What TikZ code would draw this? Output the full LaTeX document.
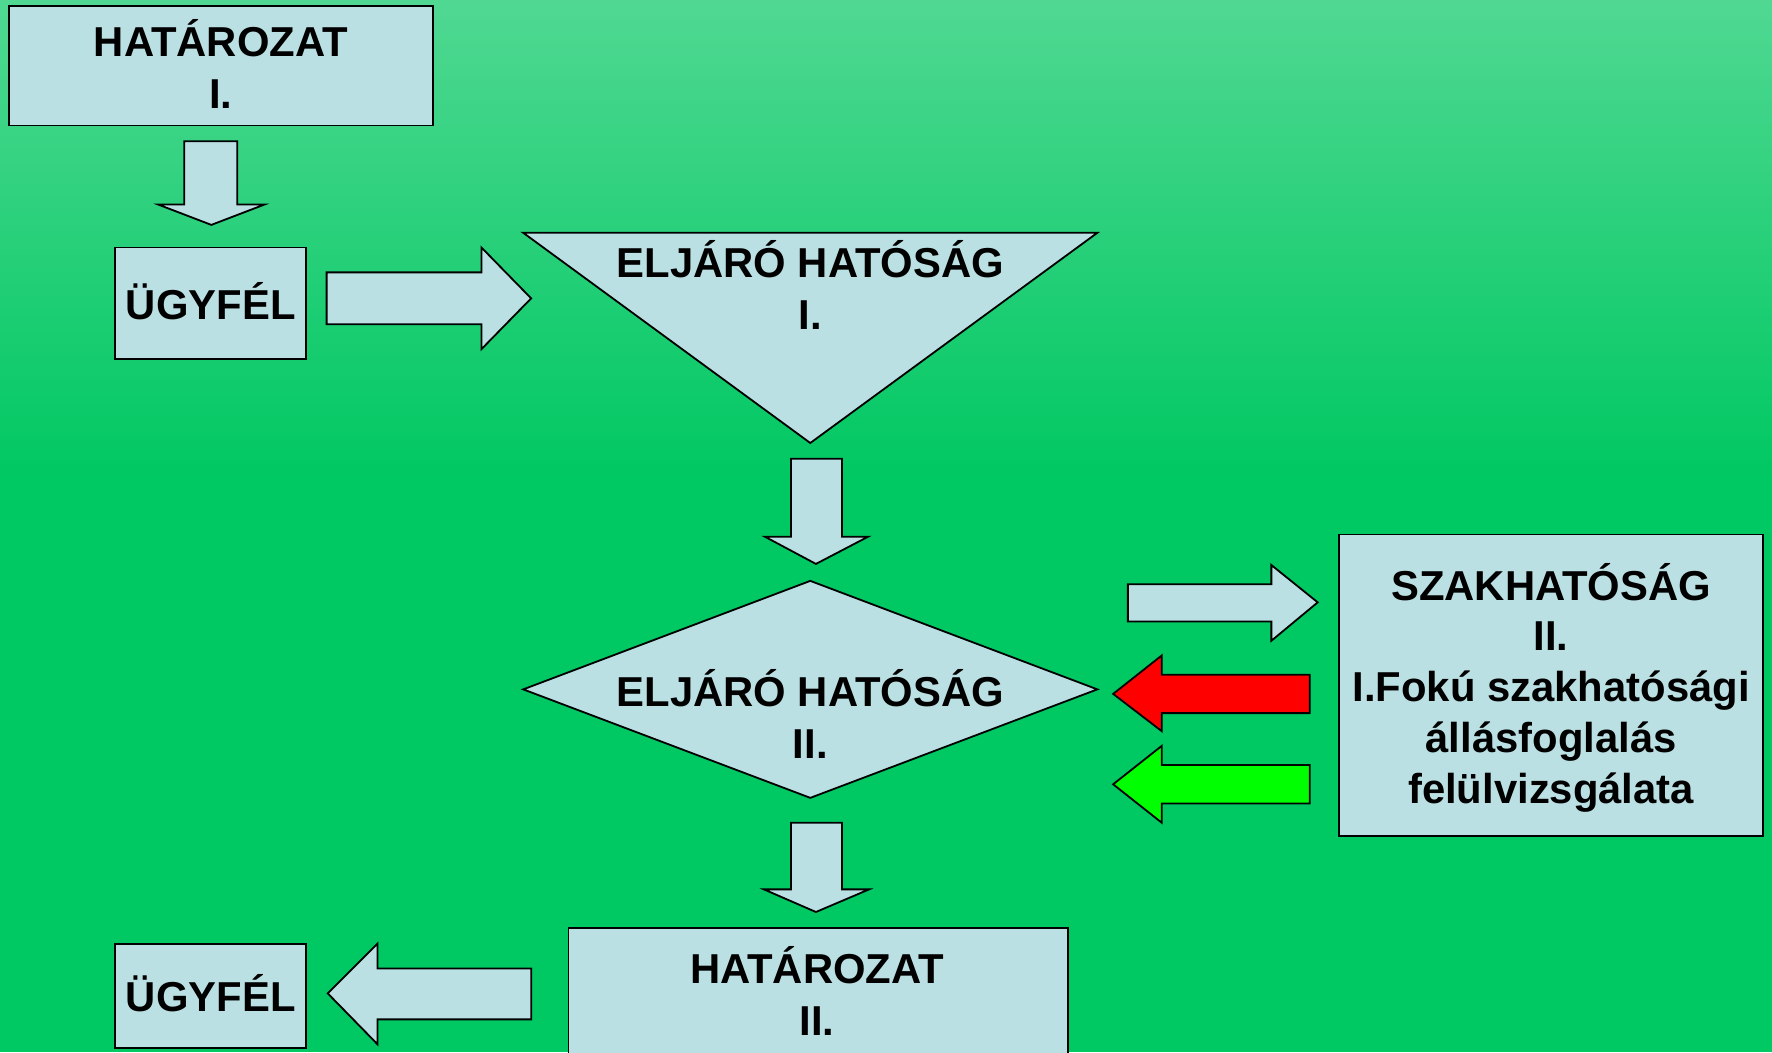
\documentclass[tikz,border=0pt]{standalone}
\usepackage{fontspec}
\setmainfont{Liberation Sans}
\definecolor{bgtop}{RGB}{80,216,146}
\definecolor{bgbot}{RGB}{0,200,98}
\definecolor{boxfill}{RGB}{187,224,227}
\definecolor{redarrow}{RGB}{255,0,0}
\definecolor{greenarrow}{RGB}{0,255,0}
\tikzset{
  shapebox/.style={draw=black, line width=0.8pt, fill=boxfill},
  boxnode/.style={shapebox, inner sep=0pt},
  label text/.style={inner sep=0pt, align=center, font=\bfseries\fontsize{18.5pt}{23pt}\selectfont},
  blockarrow/.style={draw=black, line width=0.8pt, line join=miter, fill=boxfill},
}
\begin{document}
\begin{tikzpicture}[x=0.5pt, y=-0.5pt]
  \useasboundingbox (0,0) rectangle (1568,931);
  % background
  \shade[top color=bgtop, bottom color=bgbot] (0,0) rectangle (1568,424);
  \fill[bgbot] (0,423) rectangle (1568,931);

  % boxes
  \node[boxnode, minimum width=187.5pt, minimum height=53pt] (hat1) at (195.5,58) {};
  \node[label text] (hat1t) at (195.5,56.5) {HATÁROZAT\\I.};
  \node[boxnode, minimum width=84.5pt, minimum height=49.5pt] (ugy1) at (186.5,268.5) {};
  \node[label text] (ugy1t) at (186.5,266.5) {ÜGYFÉL};
  \node[boxnode, minimum width=84.5pt, minimum height=46pt] (ugy2) at (186.5,881) {};
  \node[label text] (ugy2t) at (186.5,879) {ÜGYFÉL};
  \node[boxnode, minimum width=187.5pt, minimum height=133.5pt] (szak) at (1372.5,606.5) {};
  \node[label text, font=\bfseries\fontsize{18.5pt}{22.5pt}\selectfont] (szakt) at (1372.5,608.5)
        {SZAKHATÓSÁG\\II.\\I.Fokú szakhatósági\\állásfoglalás\\felülvizsgálata};

  % triangle (eljáró hatóság I.)
  \draw[shapebox, line join=miter] (463,206) -- (971,206) -- (717,392) -- cycle;
  \node[label text] (elj1) at (717,252) {ELJÁRÓ HATÓSÁG\\I.};

  % diamond (eljáró hatóság II.)
  \draw[shapebox, line join=miter] (463,610) -- (717,514) -- (971,610) -- (717,706) -- cycle;
  \node[label text] (elj2) at (717,631.5) {ELJÁRÓ HATÓSÁG\\II.};

  % határozat II (runs off the bottom)
  \draw[shapebox] (503,821) rectangle (945,945);
  \node[label text] (hat2) at (723,876.5) {HATÁROZAT\\II.};

  % block arrows
  \draw[blockarrow] (163,125) -- (210,125) -- (210,181) -- (234,181) -- (187,199) -- (140,181) -- (163,181) -- cycle;
  \draw[blockarrow] (289,241) -- (426,241) -- (426,219) -- (470,264) -- (426,309) -- (426,287) -- (289,287) -- cycle;
  \draw[blockarrow] (700,406) -- (745,406) -- (745,475) -- (768,475) -- (722,499) -- (677,475) -- (700,475) -- cycle;
  \draw[blockarrow] (998,517) -- (1125,517) -- (1125,500) -- (1166,533) -- (1125,567) -- (1125,550) -- (998,550) -- cycle;
  \draw[blockarrow, fill=redarrow] (1159,597) -- (1028,597) -- (1028,580) -- (985,614) -- (1028,647) -- (1028,631) -- (1159,631) -- cycle;
  \draw[blockarrow, fill=greenarrow] (1159,677) -- (1028,677) -- (1028,660) -- (985,694) -- (1028,728) -- (1028,711) -- (1159,711) -- cycle;
  \draw[blockarrow] (700,728) -- (745,728) -- (745,787) -- (769,787) -- (722,807) -- (676,787) -- (700,787) -- cycle;
  \draw[blockarrow] (470,857) -- (334,857) -- (334,835) -- (290,879) -- (334,924) -- (334,902) -- (470,902) -- cycle;
\end{tikzpicture}
\end{document}
